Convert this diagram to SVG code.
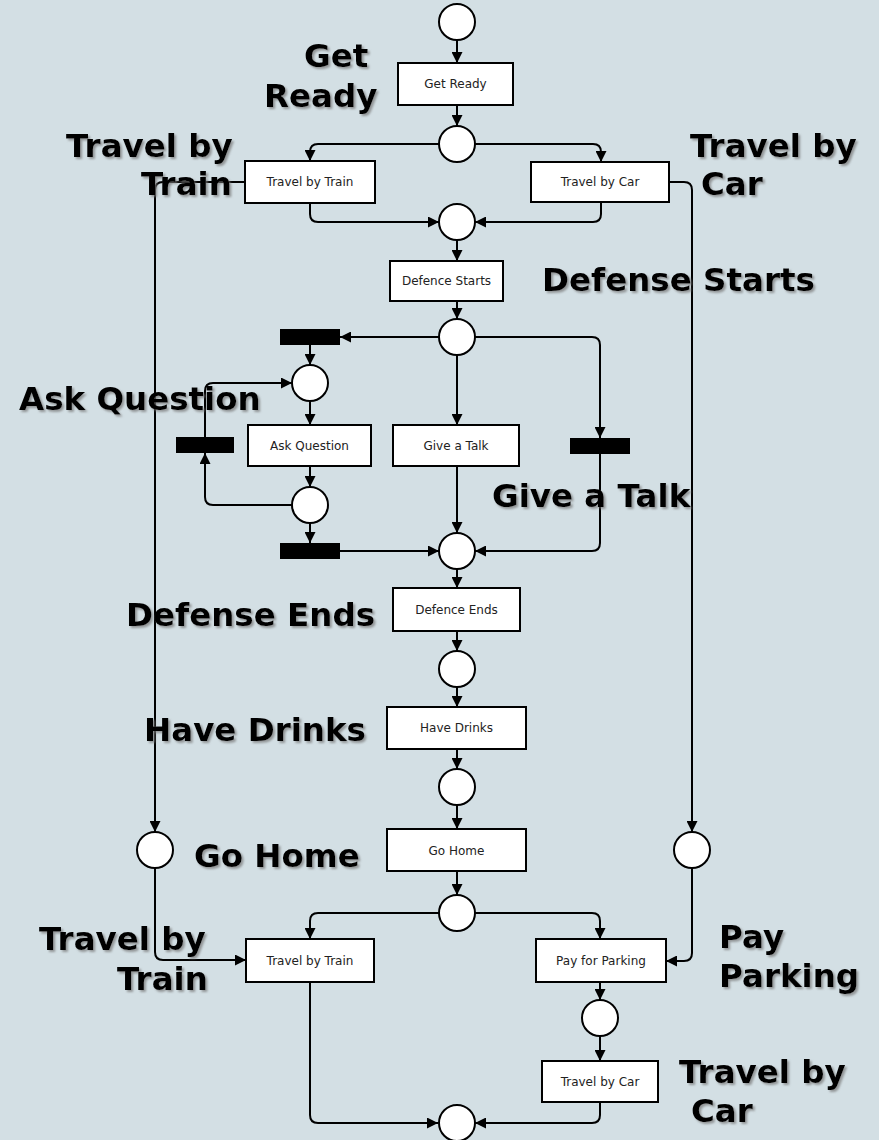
<svg xmlns="http://www.w3.org/2000/svg" width="879" height="1140" viewBox="0 0 879 1140">
<style>
.pl{fill:#fff;stroke:#000;stroke-width:2}
.tr{fill:#fff;stroke:#000;stroke-width:2}
.bar{fill:#000}
.t{font-family:"DejaVu Sans",Verdana,sans-serif;font-size:12px;fill:#222;text-anchor:middle}
.lb{font-family:"DejaVu Sans",Verdana,sans-serif;font-size:32.5px;font-weight:bold;fill:#000;filter:url(#sh)}
.c{fill:none;stroke:#000;stroke-width:2;marker-end:url(#ah)}
</style>
<defs>
<marker id="ah" markerUnits="userSpaceOnUse" viewBox="0 0 10 10" refX="10" refY="5" markerWidth="11" markerHeight="11" orient="auto">
<path d="M0,0 L10,5 L0,10 z" fill="#000"/>
</marker>
<filter id="sh" x="-10%" y="-30%" width="130%" height="160%">
<feDropShadow dx="2" dy="2" stdDeviation="1" flood-color="#777" flood-opacity="0.7"/>
</filter>
</defs>
<rect x="0" y="0" width="879" height="1140" fill="#d3dfe4"/>

<g id="connectors">
<path class="c" d="M457,40 V63"/>
<path class="c" d="M457,105 V126"/>
<path class="c" d="M439,144 H318 Q310,144 310,152 V161"/>
<path class="c" d="M475,144 H593 Q601,144 601,152 V162"/>
<path class="c" d="M310,203 V214 Q310,222 318,222 H439"/>
<path class="c" d="M601,202 V214 Q601,222 593,222 H475"/>
<path class="c" d="M457,240 V261"/>
<path class="c" d="M457,301 V319"/>
<path class="c" d="M439,337 H340"/>
<path class="c" d="M310,345 V365"/>
<path class="c" d="M310,401 V425"/>
<path class="c" d="M310,466 V487"/>
<path class="c" d="M292,505 H213 Q205,505 205,497 V453"/>
<path class="c" d="M205,437 V391 Q205,383 213,383 H292"/>
<path class="c" d="M310,523 V543"/>
<path class="c" d="M340,551 H439"/>
<path class="c" d="M457,355 V425"/>
<path class="c" d="M457,466 V533"/>
<path class="c" d="M475,337 H592 Q600,337 600,345 V438"/>
<path class="c" d="M600,454 V543 Q600,551 592,551 H475"/>
<path class="c" d="M457,569 V588"/>
<path class="c" d="M457,631 V651"/>
<path class="c" d="M457,687 V707"/>
<path class="c" d="M457,749 V769"/>
<path class="c" d="M457,805 V829"/>
<path class="c" d="M457,871 V895"/>
<path class="c" d="M245,182 H163 Q155,182 155,190 V832"/>
<path class="c" d="M669,182 H684 Q692,182 692,190 V832"/>
<path class="c" d="M439,913 H318 Q310,913 310,921 V939"/>
<path class="c" d="M475,913 H592 Q600,913 600,921 V939"/>
<path class="c" d="M155,868 V952 Q155,960 163,960 H246"/>
<path class="c" d="M692,868 V953 Q692,961 684,961 H666"/>
<path class="c" d="M600,982 V1000"/>
<path class="c" d="M600,1036 V1061"/>
<path class="c" d="M600,1102 V1115 Q600,1123 592,1123 H475"/>
<path class="c" d="M310,982 V1115 Q310,1123 318,1123 H438"/>
</g>

<g id="p0"><circle class="pl" cx="457" cy="22" r="18"/></g>
<g id="getready"><rect class="tr" x="398" y="63" width="115" height="42"/><text class="t" x="455.5" y="88">Get Ready</text></g>
<g id="p1"><circle class="pl" cx="457" cy="144" r="18"/></g>
<g id="train1"><rect class="tr" x="245" y="161" width="130" height="42"/><text class="t" x="310" y="186">Travel by Train</text></g>
<g id="car1"><rect class="tr" x="531" y="162" width="138" height="40"/><text class="t" x="600" y="186">Travel by Car</text></g>
<g id="p2"><circle class="pl" cx="457" cy="222" r="18"/></g>
<g id="defstart"><rect class="tr" x="390" y="261" width="113" height="40"/><text class="t" x="446.5" y="285">Defence Starts</text></g>
<g id="p3"><circle class="pl" cx="457" cy="337" r="18"/></g>
<g id="barL"><rect class="bar" x="280" y="329" width="60" height="16"/></g>
<g id="p4"><circle class="pl" cx="310" cy="383" r="18"/></g>
<g id="ask"><rect class="tr" x="248" y="425" width="123" height="41"/><text class="t" x="309.5" y="450">Ask Question</text></g>
<g id="talk"><rect class="tr" x="393" y="425" width="126" height="41"/><text class="t" x="456" y="450">Give a Talk</text></g>
<g id="barLoop"><rect class="bar" x="176" y="437" width="58" height="16"/></g>
<g id="barR"><rect class="bar" x="570" y="438" width="60" height="16"/></g>
<g id="p5"><circle class="pl" cx="310" cy="505" r="18"/></g>
<g id="barB"><rect class="bar" x="280" y="543" width="60" height="16"/></g>
<g id="p6"><circle class="pl" cx="457" cy="551" r="18"/></g>
<g id="defends"><rect class="tr" x="393" y="588" width="127" height="43"/><text class="t" x="456.5" y="614">Defence Ends</text></g>
<g id="p7"><circle class="pl" cx="457" cy="669" r="18"/></g>
<g id="drinks"><rect class="tr" x="387" y="707" width="139" height="42"/><text class="t" x="456.5" y="732">Have Drinks</text></g>
<g id="p8"><circle class="pl" cx="457" cy="787" r="18"/></g>
<g id="gohome"><rect class="tr" x="387" y="829" width="139" height="42"/><text class="t" x="456.5" y="855">Go Home</text></g>
<g id="ptrain"><circle class="pl" cx="155" cy="850" r="18"/></g>
<g id="pcar"><circle class="pl" cx="692" cy="850" r="18"/></g>
<g id="p9"><circle class="pl" cx="457" cy="913" r="18"/></g>
<g id="train2"><rect class="tr" x="246" y="939" width="128" height="43"/><text class="t" x="310" y="965">Travel by Train</text></g>
<g id="pay"><rect class="tr" x="536" y="939" width="130" height="43"/><text class="t" x="601" y="965">Pay for Parking</text></g>
<g id="p10"><circle class="pl" cx="600" cy="1018" r="18"/></g>
<g id="car2"><rect class="tr" x="542" y="1061" width="116" height="41"/><text class="t" x="600" y="1086">Travel by Car</text></g>
<g id="pend"><circle class="pl" cx="457" cy="1123" r="18"/></g>

<g id="labels">
<text class="lb" x="304" y="67">Get</text>
<text class="lb" x="264" y="107">Ready</text>
<text class="lb" x="66" y="157">Travel by</text>
<text class="lb" x="141" y="195">Train</text>
<text class="lb" x="690" y="157">Travel by</text>
<text class="lb" x="701" y="195">Car</text>
<text class="lb" x="542" y="291">Defense Starts</text>
<text class="lb" x="19" y="410">Ask Question</text>
<text class="lb" x="492" y="507">Give a Talk</text>
<text class="lb" x="126" y="626">Defense Ends</text>
<text class="lb" x="144" y="741">Have Drinks</text>
<text class="lb" x="194" y="867">Go Home</text>
<text class="lb" x="39" y="950">Travel by</text>
<text class="lb" x="117" y="990">Train</text>
<text class="lb" x="719" y="948">Pay</text>
<text class="lb" x="719" y="987">Parking</text>
<text class="lb" x="679" y="1083">Travel by</text>
<text class="lb" x="691" y="1122">Car</text>
</g>
</svg>
